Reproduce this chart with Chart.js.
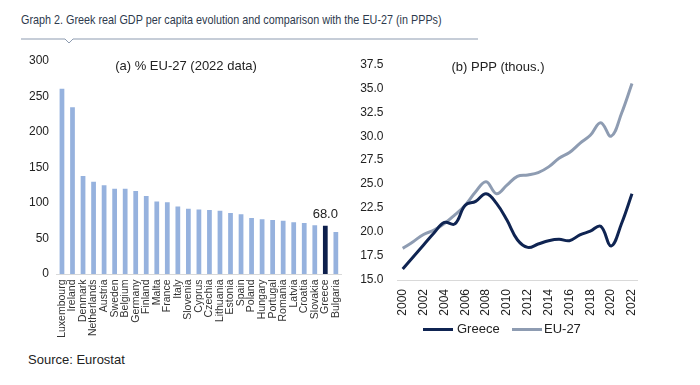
<!DOCTYPE html>
<html>
<head>
<meta charset="utf-8">
<script src="https://cdn.jsdelivr.net/npm/chart.js@4.4.1/dist/chart.umd.min.js"></script>
<style>
  body { margin: 0; background: #fff; width: 700px; height: 385px; position: relative; overflow: hidden;
         font-family: "Liberation Sans", Arial, sans-serif; }
  #title { position: absolute; left: 21px; top: 12px; font-size: 13.5px; color: #2e3a4d; white-space: nowrap;
           transform: scaleX(0.8); transform-origin: left top; }
  #rule { position: absolute; left: 20px; top: 33px; }
  .sub { position: absolute; font-size: 13px; color: #222; white-space: nowrap; transform: translateX(-50%); }
  #source { position: absolute; left: 28px; top: 352px; font-size: 13px; color: #222; }
  canvas { position: absolute; }
  .lg { position: absolute; top: 321px; font-size: 13px; color: #222; line-height: 16px; }
  .lg i { position: absolute; top: 7px; width: 30px; height: 3px; }
</style>
</head>
<body>
<div id="title">Graph 2. Greek real GDP per capita evolution and comparison with the EU-27 (in PPPs)</div>
<svg id="rule" width="460" height="12"><polyline points="1,6 45,6 49,10 53,6 458,6" fill="none" stroke="#8d9bb0" stroke-width="1"/></svg>
<canvas id="barChart" width="354" height="300" style="left:0;top:50px"></canvas>
<canvas id="lineChart" width="350" height="300" style="left:350px;top:50px"></canvas>
<div class="sub" style="left:186px;top:58px">(a) % EU-27 (2022 data)</div>
<div class="sub" style="left:498px;top:59px">(b) PPP (thous.)</div>
<div id="legend"></div>
<div id="source">Source: Eurostat</div>
<script>
// panel (a): GDP per capita in PPS, % of EU-27, 2022
const countries = ["Luxembourg", "Ireland", "Denmark", "Netherlands", "Austria", "Sweden", "Belgium",
  "Germany", "Finland", "Malta", "France", "Italy", "Slovenia", "Cyprus", "Czechia", "Lithuania",
  "Estonia", "Spain", "Poland", "Hungary", "Portugal", "Romania", "Latvia", "Croatia", "Slovakia",
  "Greece", "Bulgaria"];
const pctEU = [261, 235, 138, 130, 125, 120, 120, 117, 110, 102, 101, 95, 92, 91, 90, 89,
  86, 84, 79, 77, 76, 75, 73, 72, 68.5, 68, 59];

// panel (b): PPP, thousands
const years = ["2000", "2001", "2002", "2003", "2004", "2005", "2006", "2007", "2008", "2009", "2010",
  "2011", "2012", "2013", "2014", "2015", "2016", "2017", "2018", "2019", "2020", "2021", "2022"];
const greece = [16.15, 17.4, 18.65, 19.9, 21.0, 20.85, 22.8, 23.2, 24.0, 23.0, 21.25,
  19.2, 18.4, 18.75, 19.1, 19.25, 19.1, 19.7, 20.1, 20.6, 18.55, 20.9, 24.0];
const eu27 = [18.3, 19.0, 19.75, 20.2, 20.9, 21.8, 22.8, 24.2, 25.25, 24.0, 24.9,
  25.8, 25.95, 26.2, 26.8, 27.7, 28.3, 29.25, 30.1, 31.4, 30.0, 32.4, 35.5];

const FONT = "'Liberation Sans', Arial, sans-serif";
Chart.defaults.font.family = FONT;
Chart.defaults.color = "#222";
Chart.defaults.animation = false;

const barColors = countries.map((c) => (c === "Greece" ? "#0d1f4c" : "#96b2de"));

// value label over the Greece bar
const greeceLabel = {
  id: "greeceLabel",
  afterDatasetsDraw(chart) {
    const i = countries.indexOf("Greece");
    const bar = chart.getDatasetMeta(0).data[i];
    const ctx = chart.ctx;
    ctx.save();
    ctx.font = "13px " + FONT;
    ctx.fillStyle = "#222";
    ctx.textAlign = "center";
    ctx.textBaseline = "bottom";
    ctx.fillText(pctEU[i].toFixed(1), bar.x, bar.y - 5);
    ctx.restore();
  },
};

new Chart(document.getElementById("barChart"), {
  type: "bar",
  data: {
    labels: countries,
    datasets: [{ data: pctEU, backgroundColor: barColors, categoryPercentage: 1, barPercentage: 0.45 }],
  },
  options: {
    responsive: false,
    devicePixelRatio: 1,
    layout: { padding: { top: 11, right: 3, left: 0, bottom: 0 } },
    plugins: { legend: { display: false }, tooltip: { enabled: false } },
    scales: {
      x: {
        grid: { display: false, drawTicks: false },
        border: { color: "#d9d9d9" },
        ticks: { minRotation: 90, maxRotation: 90, autoSkip: false, font: { size: 10.5 }, padding: 5.5, color: "#333" },
        afterFit: (s) => { s.height = 76; },
      },
      y: {
        min: 0, max: 300,
        grid: { display: false, drawTicks: false },
        border: { display: false },
        // small lineHeight so the top label does not push the plot down
        ticks: { stepSize: 50, font: { size: 12, lineHeight: 0.5 }, padding: 7.7 },
        afterFit: (s) => { s.width = 56.7; },
      },
    },
  },
  plugins: [greeceLabel],
});

const lineSets = [
  { label: "Greece", data: greece, color: "#0f2452" },
  { label: "EU-27", data: eu27, color: "#8e9cb2" },
];

new Chart(document.getElementById("lineChart"), {
  type: "line",
  data: {
    labels: years,
    datasets: lineSets.map((d) => ({
      label: d.label, data: d.data, borderColor: d.color, backgroundColor: d.color,
      borderWidth: 3, pointRadius: 0, tension: 0.4,
    })),
  },
  options: {
    responsive: false,
    devicePixelRatio: 1,
    layout: { padding: { top: 14.3, right: 62.8, left: 0, bottom: 32 } },
    plugins: { tooltip: { enabled: false }, legend: { display: false } },
    scales: {
      x: {
        offset: true,
        grid: { display: false, drawTicks: false },
        border: { color: "#d9d9d9" },
        ticks: { minRotation: 90, maxRotation: 90, autoSkip: false, font: { size: 12 }, padding: 9,
                 callback: (v, i) => (i % 2 === 0 ? years[i] : null) },
        afterFit: (s) => { s.height = 38; },
      },
      y: {
        min: 15, max: 37.5,
        grid: { display: false, drawTicks: false },
        border: { display: false },
        ticks: { stepSize: 2.5, font: { size: 12, lineHeight: 0.02 }, padding: 14, callback: (v) => v.toFixed(1) },
        afterFit: (s) => { s.width = 47.5; },
      },
    },
  },
});

// legend under panel (b)
const legendX = [423, 512];
document.getElementById("legend").innerHTML = lineSets.map((d, i) =>
  `<div class="lg" style="left:${legendX[i]}px"><i style="left:0;background:${d.color}"></i>` +
  `<span style="margin-left:${i === 0 ? 34 : 32}px">${d.label}</span></div>`).join("");
</script>
</body>
</html>
